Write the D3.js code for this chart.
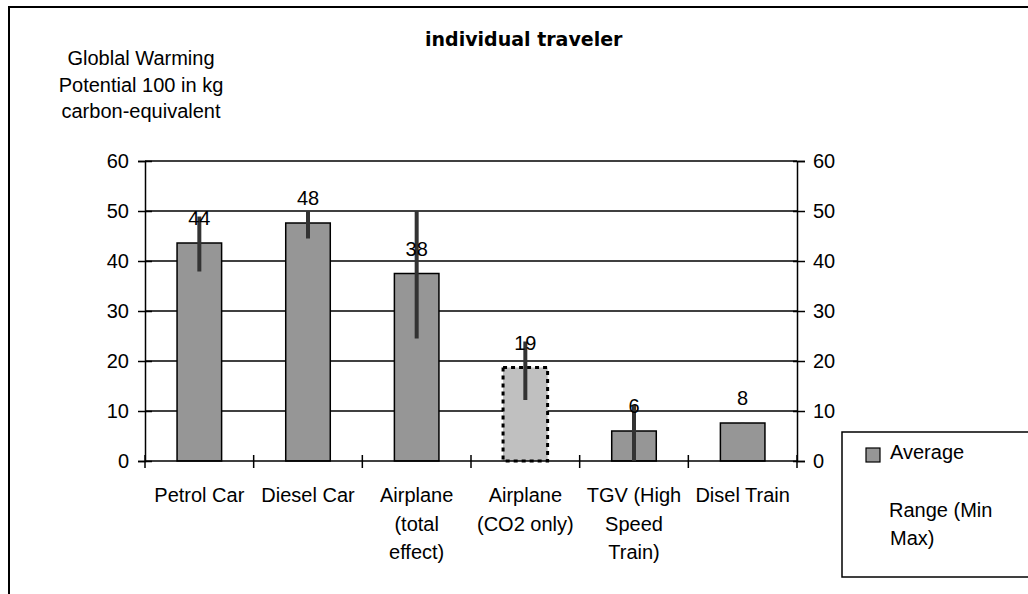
<!DOCTYPE html>
<html>
<head>
<meta charset="utf-8">
<script src="https://cdn.jsdelivr.net/npm/d3@7"></script>
<style>
  html, body { margin: 0; padding: 0; background: #fff; }
  svg { display: block; }
  text { font-family: "Liberation Sans", Arial, sans-serif; fill: #000; }
</style>
</head>
<body>
<svg id="chart" width="1028" height="594"></svg>
<script>
// ---- data ----
const categories = ["Petrol Car", "Diesel Car", "Airplane (total effect)", "Airplane (CO2 only)", "TGV (High Speed Train)", "Disel Train"];
const categoryLines = [["Petrol Car"], ["Diesel Car"], ["Airplane", "(total", "effect)"], ["Airplane", "(CO2 only)"], ["TGV (High", "Speed", "Train)"], ["Disel Train"]];
const averageValues = [43.6, 47.6, 37.5, 18.7, 6.0, 7.6];
const rangeMin = [37.9, 44.5, 24.5, 12.2, 0, 7.5];
const rangeMax = [48.9, 50, 50, 23.9, 11.2, 7.7];
const yTicks = [0, 10, 20, 30, 40, 50, 60];
const titleText = "individual traveler";
const yTitleLines = ["Globlal Warming", "Potential 100 in kg", "carbon-equivalent"];
const legendLabels = ["Average", "Range (Min", "Max)"];

const svg = d3.select("#chart");

// outer frame
svg.append("rect").attr("x", 9).attr("y", 7).attr("width", 1100).attr("height", 700)
  .attr("fill", "none").attr("stroke", "#000").attr("stroke-width", 2);

const x = d3.scaleBand().domain(categories).range([145, 797]).paddingInner(0.59).paddingOuter(0.295);
const xb = d3.scaleBand().domain(categories).range([145, 797]);
const y = d3.scaleLinear().domain([0, 60]).range([461, 161]);

// gridlines
svg.append("g").selectAll("line").data(yTicks.filter(d => d > 0)).join("line")
  .attr("x1", 145).attr("x2", 797).attr("y1", d => y(d)).attr("y2", d => y(d))
  .attr("stroke", "#000").attr("stroke-width", 1.5);

// left axis
const yAxisL = d3.axisLeft(y).tickValues(yTicks).tickSize(7).tickPadding(9);
const gL = svg.append("g").attr("transform", "translate(145,0)").call(yAxisL);
// right axis
const yAxisR = d3.axisRight(y).tickValues(yTicks).tickSize(8).tickPadding(8);
const gR = svg.append("g").attr("transform", "translate(797,0)").call(yAxisR);
[gL, gR].forEach(g => {
  g.select(".domain").attr("stroke", "#000").attr("stroke-width", 1.5);
  g.selectAll(".tick line").attr("stroke", "#000").attr("stroke-width", 1.5);
  g.selectAll(".tick text").attr("font-size", 20).attr("font-family", "Liberation Sans, Arial, sans-serif").attr("fill", "#000");
});
gL.selectAll(".tick line").attr("x1", 7).attr("x2", -7);
gR.selectAll(".tick line").attr("x1", -4).attr("x2", 8);

// bars
svg.append("g").selectAll("rect").data(averageValues).join("rect")
  .attr("x", (d, i) => x(categories[i]))
  .attr("width", x.bandwidth())
  .attr("y", d => y(d))
  .attr("height", d => y(0) - y(d))
  .attr("fill", (d, i) => i === 3 ? "#c0c0c0" : "#969696")
  .attr("stroke", "#000")
  .attr("stroke-width", (d, i) => i === 3 ? 3 : 1.5)
  .attr("stroke-dasharray", (d, i) => i === 3 ? "4,4" : null);

// bottom axis
const gB = svg.append("g");
gB.append("line").attr("x1", 145).attr("x2", 797).attr("y1", y(0)).attr("y2", y(0))
  .attr("stroke", "#000").attr("stroke-width", 1.5);
const boundaries = categories.map(c => xb(c)).concat([797]);
gB.selectAll("line.tk").data(boundaries).join("line").attr("class", "tk")
  .attr("x1", d => d).attr("x2", d => d).attr("y1", y(0) - 6).attr("y2", y(0) + 7)
  .attr("stroke", "#000").attr("stroke-width", 1.5);

// category labels
categoryLines.forEach((lines, i) => {
  const t = svg.append("text").attr("text-anchor", "middle").attr("font-size", 20)
    .attr("x", xb(categories[i]) + xb.bandwidth() / 2).attr("y", 502);
  lines.forEach((l, j) => t.append("tspan").attr("x", xb(categories[i]) + xb.bandwidth() / 2)
    .attr("dy", j === 0 ? 0 : 28.5).text(l));
});

// error bars
svg.append("g").selectAll("line").data(averageValues).join("line")
  .attr("x1", (d, i) => x(categories[i]) + x.bandwidth() / 2)
  .attr("x2", (d, i) => x(categories[i]) + x.bandwidth() / 2)
  .attr("y1", (d, i) => y(rangeMin[i]))
  .attr("y2", (d, i) => y(rangeMax[i]))
  .attr("stroke", "#333").attr("stroke-width", 4);

// value labels
svg.append("g").selectAll("text").data(averageValues).join("text")
  .attr("x", (d, i) => x(categories[i]) + x.bandwidth() / 2)
  .attr("y", d => y(d) - 18)
  .attr("text-anchor", "middle").attr("font-size", 20)
  .text(d => d3.format(".0f")(d));

// title
svg.append("text").attr("x", 425).attr("y", 46).attr("font-size", 19).attr("font-weight", "bold")
  .style("font-family", "'DejaVu Sans', Verdana, sans-serif")
  .text(titleText);

// y title
const yt = svg.append("text").attr("text-anchor", "middle").attr("font-size", 20).attr("x", 141).attr("y", 65);
yTitleLines.forEach((l, j) => yt.append("tspan").attr("x", 141).attr("dy", j === 0 ? 0 : 26.5).text(l));

// legend
svg.append("rect").attr("x", 842).attr("y", 432).attr("width", 300).attr("height", 145)
  .attr("fill", "#fff").attr("stroke", "#000").attr("stroke-width", 1.5);
svg.append("rect").attr("x", 866).attr("y", 448).attr("width", 14).attr("height", 14)
  .attr("fill", "#969696").attr("stroke", "#000").attr("stroke-width", 1.2);
svg.append("text").attr("x", 890).attr("y", 459).attr("font-size", 20).text(legendLabels[0]);
svg.append("text").attr("x", 889).attr("y", 517).attr("font-size", 20).text(legendLabels[1]);
svg.append("text").attr("x", 890).attr("y", 545).attr("font-size", 20).text(legendLabels[2]);
</script>
</body>
</html>
